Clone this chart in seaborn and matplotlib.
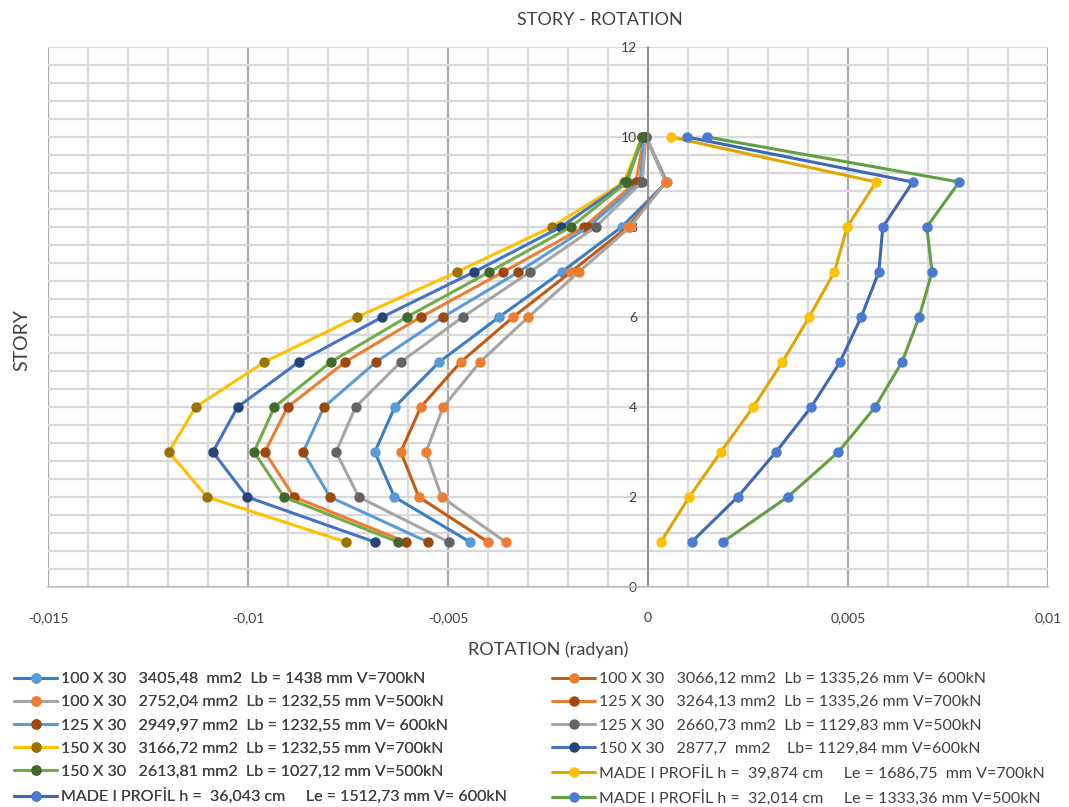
import numpy as np
import pandas as pd
import matplotlib
matplotlib.use("Agg")
import matplotlib.pyplot as plt
from matplotlib.ticker import MultipleLocator, FuncFormatter
import seaborn as sns

# Story levels
stories = [1, 2, 3, 4, 5, 6, 7, 8, 9, 10]

# Rotation per story (x 1e-3 rad)
rot_100_3405 = [-4.45, -6.34, -6.83, -6.33, -5.22, -3.72, -2.16, -0.66, 0.47, -0.05]
rot_100_3066 = [-4.00, -5.73, -6.18, -5.68, -4.68, -3.37, -1.93, -0.51, 0.45, -0.05]
rot_100_2752 = [-3.56, -5.16, -5.55, -5.12, -4.20, -2.99, -1.73, -0.45, 0.45, -0.05]
rot_125_3264 = [-6.05, -8.85, -9.58, -9.01, -7.57, -5.68, -3.62, -1.60, -0.30, -0.10]
rot_125_2949 = [-5.50, -7.95, -8.62, -8.10, -6.80, -5.12, -3.24, -1.50, -0.20, -0.08]
rot_125_2660 = [-4.98, -7.23, -7.80, -7.31, -6.18, -4.63, -2.95, -1.31, -0.15, -0.05]
rot_150_3166 = [-7.56, -11.02, -11.98, -11.31, -9.59, -7.27, -4.78, -2.41, -0.60, -0.15]
rot_150_2877 = [-6.83, -10.02, -10.88, -10.26, -8.73, -6.64, -4.35, -2.18, -0.55, -0.12]
rot_150_2613 = [-6.25, -9.10, -9.85, -9.34, -7.93, -6.03, -3.97, -1.93, -0.52, -0.16]
rot_made_39874 = [0.32, 1.03, 1.82, 2.63, 3.36, 4.03, 4.66, 4.98, 5.70, 0.57]
rot_made_36043 = [1.09, 2.24, 3.20, 4.08, 4.80, 5.33, 5.77, 5.87, 6.62, 0.97]
rot_made_32014 = [1.87, 3.49, 4.76, 5.68, 6.35, 6.78, 7.10, 6.97, 7.78, 1.47]

series_labels = [
    "100 X 30   3405,48  mm2  Lb = 1438 mm V=700kN",
    "100 X 30   3066,12 mm2  Lb = 1335,26 mm V= 600kN",
    "100 X 30   2752,04 mm2  Lb = 1232,55 mm V=500kN",
    "125 X 30   3264,13 mm2  Lb = 1335,26 mm V=700kN",
    "125 X 30   2949,97 mm2  Lb = 1232,55 mm V= 600kN",
    "125 X 30   2660,73 mm2  Lb = 1129,83 mm V=500kN",
    "150 X 30   3166,72 mm2  Lb = 1232,55 mm V=700kN",
    "150 X 30   2877,7  mm2    Lb= 1129,84 mm V=600kN",
    "150 X 30   2613,81 mm2  Lb = 1027,12 mm V=500kN",
    "MADE I PROFİL h =  39,874 cm     Le = 1686,75  mm V=700kN",
    "MADE I PROFİL h =  36,043 cm     Le = 1512,73 mm V= 600kN",
    "MADE I PROFİL h =  32,014 cm     Le = 1333,36 mm V=500kN",
]
series_values = [
    rot_100_3405, rot_100_3066, rot_100_2752,
    rot_125_3264, rot_125_2949, rot_125_2660,
    rot_150_3166, rot_150_2877, rot_150_2613,
    rot_made_39874, rot_made_36043, rot_made_32014,
]

# (line colour, marker colour)
styles = [
    ("#3A7EC2", "#5B9BD5"),
    ("#C55A11", "#ED7D31"),
    ("#A5A5A5", "#ED7D31"),
    ("#ED7D31", "#9E480E"),
    ("#5B9BD5", "#9E480E"),
    ("#A5A5A5", "#636363"),
    ("#FFC000", "#997300"),
    ("#4472C4", "#264478"),
    ("#70AD47", "#43682B"),
    ("#E0A500", "#FFC000"),
    ("#3D68B5", "#4A7BD0"),
    ("#5FA042", "#4A7BD0"),
]

sns.set_style("white")
plt.rcParams["font.family"] = ["Lato", "DejaVu Sans"]

W, H = 1069, 807
fig = plt.figure(figsize=(W / 100, H / 100), dpi=100)
ax = fig.add_axes([48 / W, 1 - 587 / H, 1000 / W, 540 / H])

handles = []
for label, vals, (lc, mc) in zip(series_labels, series_values, styles):
    df = pd.DataFrame({"rotation": np.array(vals) * 1e-3, "story": stories})
    sns.lineplot(data=df, x="rotation", y="story", sort=False, estimator=None,
                 color=lc, lw=2.2, marker="o", markersize=7.5,
                 markerfacecolor=mc, markeredgecolor=mc, markeredgewidth=0,
                 ax=ax, legend=False)
    ln = ax.lines[-1]
    ln.set_label(label)
    handles.append(ln)

ax.set_xlim(-0.015, 0.01)
ax.set_ylim(0, 12)
ax.xaxis.set_major_locator(MultipleLocator(0.005))
ax.xaxis.set_minor_locator(MultipleLocator(0.001))
ax.yaxis.set_major_locator(MultipleLocator(2))
ax.yaxis.set_minor_locator(MultipleLocator(0.4))


def comma_fmt(v, pos):
    v = round(v, 4)
    if abs(v) < 1e-12:
        return "0"
    return f"{v:g}".replace(".", ",")


ax.xaxis.set_major_formatter(FuncFormatter(comma_fmt))
ax.yaxis.set_major_formatter(FuncFormatter(lambda v, p: f"{v:g}"))

ax.set_axisbelow(True)
ax.grid(which="minor", color="#D9D9D9", lw=1.6)
ax.grid(which="major", axis="y", color="#D9D9D9", lw=1.6)
ax.grid(which="major", axis="x", color="#ABABAB", lw=1.6)

for side in ("top", "right"):
    ax.spines[side].set_visible(False)
ax.spines["bottom"].set_color("#BFBFBF")
ax.spines["bottom"].set_linewidth(1.2)
ax.spines["left"].set_position(("data", 0))
ax.spines["left"].set_color("#8C8C8C")
ax.spines["left"].set_linewidth(1.2)

ax.tick_params(axis="x", which="major", direction="out", length=6, color="#D0D0D0",
               pad=12, labelsize=10, labelcolor="#404040")
ax.tick_params(axis="x", which="minor", length=0)
ax.tick_params(axis="y", which="major", direction="in", length=5, color="#8C8C8C",
               pad=8, labelsize=10, labelcolor="#404040")
ax.tick_params(axis="y", which="minor", length=0)
ax.set_xlabel("")
ax.set_ylabel("")

fig.text(600 / W, 1 - 20 / H, "STORY - ROTATION", ha="center", va="center",
         fontsize=13, color="#404040")
fig.text(548 / W, 1 - 650 / H, "ROTATION (radyan)", ha="center", va="center",
         fontsize=13, color="#404040")
fig.text(22 / W, 1 - 340 / H, "STORY", ha="center", va="center", rotation=90,
         fontsize=14, color="#404040")

leg_kw = dict(loc="upper left", frameon=False, fontsize=11.5, handlelength=2.7,
              handletextpad=0.25, labelspacing=0.565, borderaxespad=0, borderpad=0,
              labelcolor="#404040")
leg1 = fig.legend(handles=handles[0::2], bbox_to_anchor=(14 / W, 1 - 672 / H), **leg_kw)
fig.add_artist(leg1)
fig.legend(handles=handles[1::2], bbox_to_anchor=(552 / W, 1 - 672 / H), **leg_kw)

fig.savefig("out.png", dpi=100)
